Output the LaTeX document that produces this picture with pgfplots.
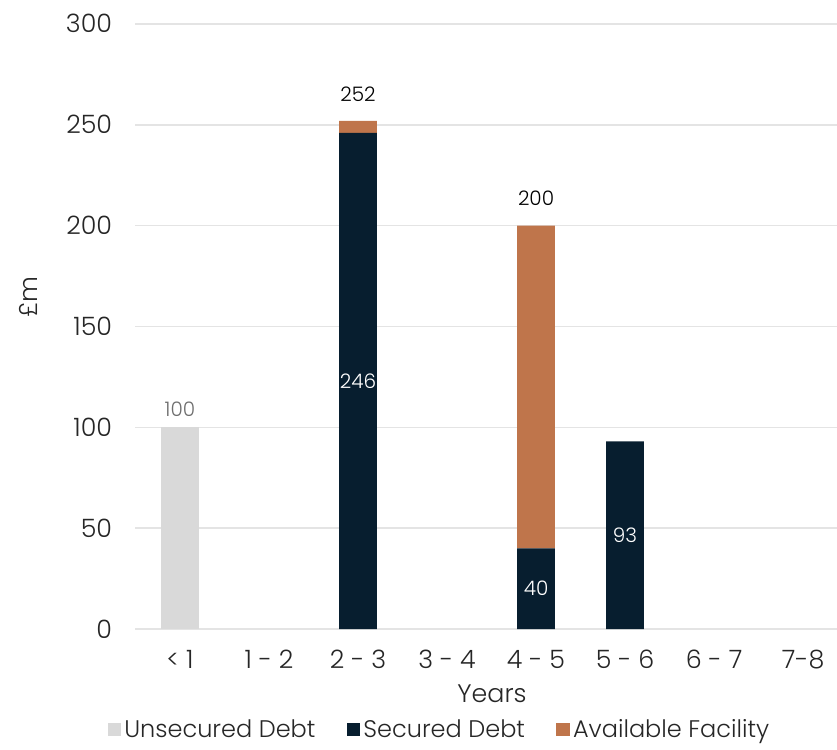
\documentclass[border=0pt]{standalone}
\usepackage{fontspec}
\setmainfont{Poppins Light}
\usepackage{pgfplots}
\pgfplotsset{compat=1.18}

\definecolor{unsec}{HTML}{D9D9D9}
\definecolor{sec}{HTML}{071E2F}
\definecolor{avail}{HTML}{BF754B}
\definecolor{gridc}{HTML}{E4E4E4}
\definecolor{txt}{HTML}{262626}
\definecolor{lbl}{HTML}{6E6E6E}

\newcommand{\tickfont}{\fontsize{19}{22}\selectfont}
\newcommand{\legfont}{\fontsize{18}{21}\selectfont}
\newcommand{\lblfont}{\fontsize{15}{18}\selectfont}

\begin{document}
\begin{tikzpicture}
\begin{axis}[
  name=ax,
  scale only axis,
  width=526.1pt, height=453.75pt,
  ybar stacked, bar width=28.3pt,
  xmin=-0.5, xmax=7.38,
  ymin=0, ymax=300,
  xtick={0,...,7},
  xticklabels={< 1, 1 - 2, 2 - 3, 3 - 4, 4 - 5, 5 - 6, 6 - 7, 7-8},
  ytick={0,50,...,300},
  ymajorgrids,
  grid style={gridc, line width=1.1pt},
  axis line style={draw=none},
  major tick length=0pt,
  tick style={draw=none},
  /pgf/number format/assume math mode=true,
  ticklabel style={font=\tickfont, text=txt, inner sep=0pt},
  xticklabel style={anchor=base, yshift=-29.25pt},
  yticklabel style={anchor=base east, xshift=-17.4pt, yshift=-6.75pt},
  legend columns=3,
  legend style={
    at={(axis description cs:-0.04,-0.166)}, anchor=west,
    draw=none, fill=none, inner sep=0pt,
    font=\legfont, text=txt,
    nodes={inner xsep=2.5pt, inner ysep=0pt},
    /tikz/every even column/.append style={column sep=21pt},
  },
  legend image code/.code={\fill[#1] (-2pt,-5.2pt) rectangle (8pt,5.2pt);},
]
% Unsecured debt
\addplot[fill=unsec, draw=none] coordinates {(0,100) (1,0) (2,0) (3,0) (4,0) (5,0) (6,0) (7,0)};
% Secured debt
\addplot[fill=sec, draw=none] coordinates {(0,0) (1,0) (2,246) (3,0) (4,40) (5,93) (6,0) (7,0)};
% Available facility
\addplot[fill=avail, draw=none] coordinates {(0,0) (1,0) (2,6) (3,0) (4,160) (5,0) (6,0) (7,0)};
\legend{Unsecured Debt, Secured Debt, Available Facility}

% anchor points for the value labels
\coordinate (t0) at (axis cs:0,100);
\coordinate (t2) at (axis cs:2,252);
\coordinate (t4) at (axis cs:4,200);
\coordinate (m2) at (axis cs:2,123);
\coordinate (m4) at (axis cs:4,20);
\coordinate (m5) at (axis cs:5,46.5);
\end{axis}

% value labels, drawn on top of the bars
\node[font=\lblfont, text=lbl, anchor=base, inner sep=0pt, yshift=8.25pt] at (t0) {100};
\node[font=\lblfont, text=black, anchor=base, inner sep=0pt, yshift=14.25pt] at (t2) {252};
\node[font=\lblfont, text=black, anchor=base, inner sep=0pt, yshift=15pt] at (t4) {200};
\node[font=\lblfont, text=white, inner sep=0pt] at (m2) {246};
\node[font=\lblfont, text=white, inner sep=0pt] at (m4) {40};
\node[font=\lblfont, text=white, inner sep=0pt] at (m5) {93};

\node[rotate=90, font=\tickfont, text=txt, inner sep=0pt] at ([xshift=-80.6pt, yshift=249pt]ax.south west) {£m};
\node[font=\tickfont, text=txt, anchor=base, inner sep=0pt] at ([xshift=267.4pt, yshift=-54.75pt]ax.south west) {Years};

\pgfresetboundingbox
\path ([xshift=-101.6pt, yshift=-90pt]ax.south west) rectangle ++(627.75pt, 561.75pt);
\end{tikzpicture}
\end{document}
